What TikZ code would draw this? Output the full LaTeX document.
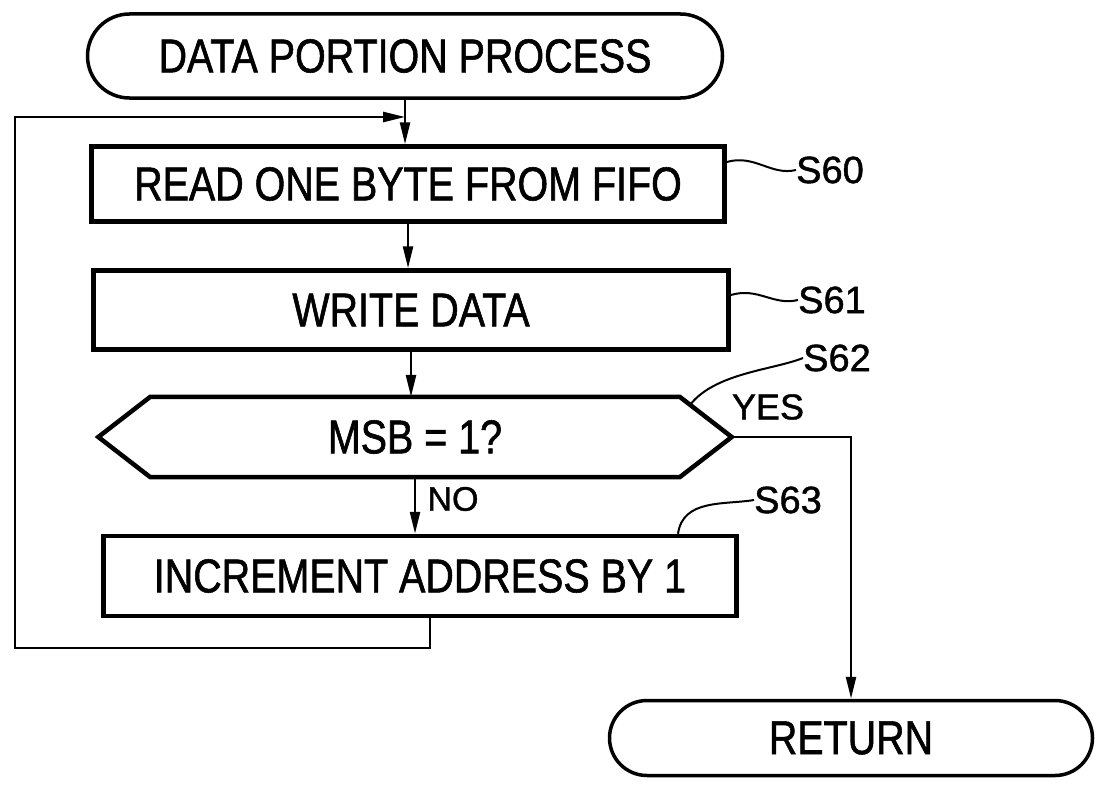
\documentclass[tikz,border=0pt]{standalone}
\usepackage{fontspec}
\setmainfont{Liberation Sans}[FakeStretch=0.83,FakeBold=1.2]
\newfontfamily\lblfont{Liberation Sans}[FakeBold=1.2]
\usetikzlibrary{arrows.meta,shapes.misc,calc}
\newcommand\mainfs{\fontsize{47.5}{50}\selectfont}
\begin{document}
\begin{tikzpicture}[x=1pt,y=-1pt,
  box/.style={draw,line width=4.5pt,minimum width=633pt,minimum height=78pt,inner sep=0pt,font=\mainfs},
  term/.style={draw,rounded rectangle,line width=3.5pt,inner sep=0pt,font=\mainfs},
  arr/.style={line width=2.5pt,line join=miter,-{Triangle[length=22pt,width=10pt]}},
  lbl/.style={font=\lblfont\fontsize{38}{40}\selectfont,inner sep=0pt},
  sq/.style={line width=2pt}]
\useasboundingbox (0,0) rectangle (1097,784);
% nodes
\node[term,minimum width=635pt,minimum height=84pt] (start) at (405,56) {DATA PORTION PROCESS};
\node[box,minimum height=75pt] (s60) at (408,184) {READ ONE BYTE FROM FIFO};
\node[box,minimum width=635pt,minimum height=79pt] (s61) at (411,310) {WRITE DATA};
\node[minimum width=633pt,minimum height=80pt,inner sep=0pt,font=\mainfs] (dec) at (415,437) {MSB = 1?};
\draw[line width=4.5pt,line join=miter] (dec.west) -- ([xshift=52pt]dec.north west) -- ([xshift=-52pt]dec.north east) -- (dec.east) -- ([xshift=-52pt]dec.south east) -- ([xshift=52pt]dec.south west) -- cycle;
\node[box,minimum height=80pt] (s63) at (420,576) {INCREMENT ADDRESS BY 1};
\node[term,minimum width=483pt,minimum height=75pt] (ret) at (851,738) {RETURN};
% labels
\node[lbl] (l60) at (830,170) {S60};
\node[lbl] (l61) at (832,300) {S61};
\node[lbl] (l62) at (837,358) {S62};
\node[lbl] (l63) at (788,500) {S63};
\node[lbl,font=\lblfont\fontsize{36}{38}\selectfont] (yes) at (768,407) {YES};
\node[lbl,font=\lblfont\fontsize{34}{36}\selectfont] (no) at (453,499) {NO};
% squiggles
\draw[sq] ([yshift=22pt]s60.east) .. controls +(28,-8) and +(-25,6) .. (l60.west);
\draw[sq] ([yshift=15pt]s61.east) .. controls +(28,-8) and +(-25,6) .. (l61.west);
\draw[sq] ($([xshift=-52pt]dec.north east)!0.2!(dec.east)$) .. controls +(25,-32) and +(-30,12) .. (l62.west);
\draw[sq] ([xshift=258pt]s63.north) .. controls +(5,-35) and +(-30,5) .. (l63.west);
% connectors
\coordinate (lt) at (15,117);
\coordinate (lb) at (15,648);
\draw[arr] (start.south) -- (start.south |- s60.north);
\draw[arr] ([xshift=10pt]s63.south) |- (lb) -- (lt) -- (lt -| start.south);
\draw[arr] (s60.south) -- (s60.south |- s61.north);
\draw[arr] (s61.south) -- (s61.south |- dec.north);
\draw[arr] (dec.south) -- (dec.south |- s63.north);
\draw[arr] (dec.east) -| (ret.north);
\end{tikzpicture}
\end{document}
